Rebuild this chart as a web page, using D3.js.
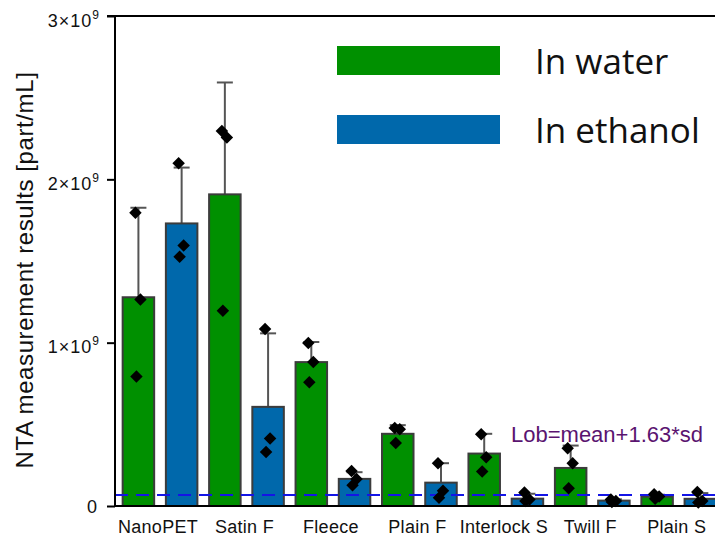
<!DOCTYPE html>
<html>
<head>
<meta charset="utf-8">
<script src="https://cdn.jsdelivr.net/npm/d3@7"></script>
<style>
  body { margin: 0; background: #fff; }
  svg { display: block; }
</style>
</head>
<body>
<div class="chart-box"></div>
<script>
// chart data
const categories = ["NanoPET", "Satin F", "Fleece", "Plain F", "Interlock S", "Twill F", "Plain S"];
const seriesNames = ["In water", "In ethanol"];
const waterMeans = [1.278e9, 1.908e9, 0.881e9, 0.442e9, 0.321e9, 0.233e9, 0.057e9];
const waterErr = [0.548e9, 0.685e9, 0.123e9, 0.053e9, 0.121e9, 0.137e9, 0.012e9];
const waterPoints = [
    [1.796e9, 1.264e9, 0.793e9],
    [2.296e9, 2.256e9, 1.196e9],
    [0.998e9, 0.882e9, 0.757e9],
    [0.477e9, 0.470e9, 0.385e9],
    [0.440e9, 0.299e9, 0.211e9],
    [0.354e9, 0.262e9, 0.109e9],
    [0.072e9, 0.058e9, 0.045e9]
];
const ethanolMeans = [1.730e9, 0.607e9, 0.166e9, 0.143e9, 0.045e9, 0.033e9, 0.044e9];
const ethanolErr = [0.342e9, 0.450e9, 0.041e9, 0.119e9, 0.030e9, 0.008e9, 0.035e9];
const ethanolPoints = [
    [2.098e9, 1.595e9, 1.526e9],
    [1.084e9, 0.413e9, 0.331e9],
    [0.215e9, 0.165e9, 0.127e9],
    [0.262e9, 0.094e9, 0.051e9],
    [0.082e9, 0.040e9, 0.030e9],
    [0.040e9, 0.030e9, 0.025e9],
    [0.085e9, 0.030e9, 0.022e9]
];
const yTicks = [0, 1e9, 2e9, 3e9];
const lobValue = 0.067e9;
const lobLabel = "Lob=mean+1.63*sd";

const colors = { "In water": "#009000", "In ethanol": "#0068ab" };

// build rows
const rows = [];
categories.forEach((c, i) => {
    rows.push({ cat: c, series: "In water", mean: waterMeans[i], err: waterErr[i], pts: waterPoints[i] });
    rows.push({ cat: c, series: "In ethanol", mean: ethanolMeans[i], err: ethanolErr[i], pts: ethanolPoints[i] });
});

const svg = d3.select(".chart-box").append("svg")
    .attr("width", 715)
    .attr("height", 536)
    .style("font-family", "'Liberation Sans', Arial, sans-serif");

const plotLeft = 115, plotTop = 16, plotBottom = 506, plotRight = 722;

const y = d3.scaleLinear().domain([0, 3e9]).range([plotBottom, plotTop]);
const x0 = d3.scaleBand().domain(categories).range([116.8, 721.95]).padding(0);
const x1 = d3.scaleBand().domain(seriesNames).range([0, x0.bandwidth()])
    .paddingInner(0.271).paddingOuter(0.1355);

const barX = (d) => x0(d.cat) + x1(d.series);
const barMid = (d) => barX(d) + x1.bandwidth() / 2;

//error bars (upper only)
const eb = svg.append("g").attr("stroke", "#555").attr("stroke-width", 2);
eb.selectAll(".err-line")
    .data(rows)
    .enter().append("line")
    .attr("x1", barMid).attr("x2", barMid)
    .attr("y1", (d) => y(d.mean))
    .attr("y2", (d) => y(d.mean + d.err));
eb.selectAll(".err-cap")
    .data(rows)
    .enter().append("line")
    .attr("x1", (d) => barMid(d) - 8).attr("x2", (d) => barMid(d) + 8)
    .attr("y1", (d) => y(d.mean + d.err))
    .attr("y2", (d) => y(d.mean + d.err));

//bars
svg.append("g").selectAll(".bar")
    .data(rows)
    .enter().append("rect")
    .attr("class", "bar")
    .attr("x", barX)
    .attr("y", (d) => y(d.mean))
    .attr("width", x1.bandwidth())
    .attr("height", (d) => y(0) - y(d.mean))
    .attr("fill", (d) => colors[d.series])
    .attr("stroke", "#3c3c3c")
    .attr("stroke-width", 2);

//lob line
svg.append("line")
    .attr("x1", plotLeft).attr("x2", plotRight)
    .attr("y1", y(lobValue)).attr("y2", y(lobValue))
    .attr("stroke", "#1414e6")
    .attr("stroke-width", 2)
    .attr("stroke-dasharray", "13,8");

svg.append("text")
    .attr("x", 511)
    .attr("y", 442)
    .attr("font-size", "22px")
    .attr("fill", "#5a1470")
    .text(lobLabel);

//points
const jitter = [-3, 2, -2];
const diamond = d3.symbol(d3.symbolSquare, 78);
rows.forEach((r) => {
    svg.append("g").selectAll("path")
        .data(r.pts)
        .enter().append("path")
        .attr("d", diamond)
        .attr("fill", "#000")
        .attr("transform", (v, i) => "translate(" + (barMid(r) + jitter[i]) + "," + y(v) + ") rotate(45)");
});

//y axis
const yAxis = svg.append("g")
    .attr("transform", "translate(" + plotLeft + ",0)")
    .call(d3.axisLeft(y).tickValues(yTicks).tickSize(8).tickSizeOuter(0));
yAxis.select(".domain").remove();
yAxis.selectAll(".tick line").attr("stroke", "#000").attr("stroke-width", 2);
yAxis.selectAll(".tick text").each(function (d) {
    const t = d3.select(this);
    t.text(null)
        .attr("x", -15)
        .attr("dy", null)
        .attr("fill", "#111")
        .attr("font-size", "18px")
        .attr("letter-spacing", "1px")
        .attr("font-family", "'Liberation Sans', Arial, sans-serif");
    if (d === 0) {
        t.attr("x", -17).attr("dy", "0.36em").text("0");
    } else {
        t.attr("dy", 10);
        t.append("tspan").text((d / 1e9) + "\u00d710");
        t.append("tspan").attr("dy", -8).attr("font-size", "12px").text("9");
    }
});

//spines
const axes = svg.append("g").attr("stroke", "#000").attr("stroke-width", 2);
axes.append("line").attr("x1", plotLeft).attr("x2", plotLeft).attr("y1", plotTop).attr("y2", plotBottom + 1);
axes.append("line").attr("x1", plotLeft - 8).attr("x2", 720).attr("y1", plotTop).attr("y2", plotTop);
axes.append("line").attr("x1", plotLeft - 1).attr("x2", 720).attr("y1", plotBottom).attr("y2", plotBottom);

//x labels
svg.append("g").selectAll(".xlabel")
    .data(categories)
    .enter().append("text")
    .attr("x", (d) => x0(d) + x0.bandwidth() / 2 - 2)
    .attr("y", 533)
    .attr("text-anchor", "middle")
    .attr("font-size", "18px")
    .attr("letter-spacing", "0.3px")
    .attr("fill", "#111")
    .text((d) => d);

//y title
svg.append("text")
    .attr("transform", "translate(33,270) rotate(-90)")
    .attr("text-anchor", "middle")
    .attr("font-size", "24px")
    .attr("letter-spacing", "0.6px")
    .attr("fill", "#111")
    .text("NTA measurement results [part/mL]");

//legend
const legend = svg.append("g");
seriesNames.forEach((s, i) => {
    legend.append("rect")
        .attr("x", 337).attr("y", 46 + i * 69)
        .attr("width", 163).attr("height", 29)
        .attr("fill", colors[s]);
    legend.append("text")
        .attr("x", 535).attr("y", 74 + i * 69)
        .attr("font-family", "'Open Sans', 'Noto Sans', sans-serif")
        .attr("font-size", "35px")
        .attr("fill", "#111")
        .text(s);
});
</script>
</body>
</html>
